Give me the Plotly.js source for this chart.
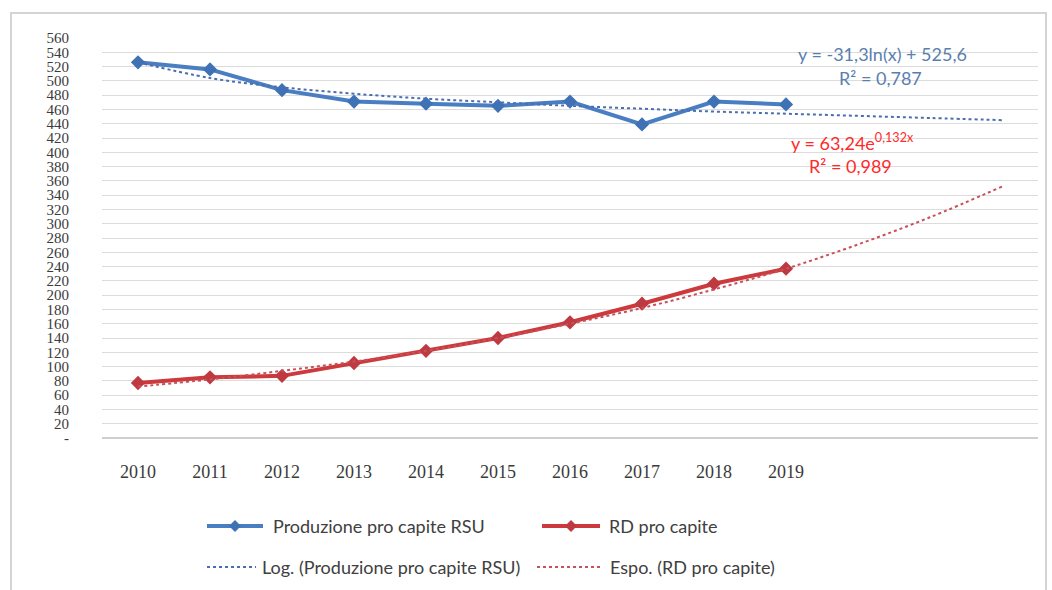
<!DOCTYPE html>
<html>
<head>
<meta charset="utf-8">
<script src="https://cdn.plot.ly/plotly-3.0.1.min.js"></script>
<style>html,body{margin:0;padding:0;background:#fff;}#chart{width:1052px;height:590px;}</style>
</head>
<body>
<div id="chart"></div>
<script>
// ---- data ----
const years = [2010, 2011, 2012, 2013, 2014, 2015, 2016, 2017, 2018, 2019];
const yearLabels = ["2010", "2011", "2012", "2013", "2014", "2015", "2016", "2017", "2018", "2019"];
const produzioneRSU = [526, 516, 487, 471, 468, 465, 471, 439, 471, 467];
const rdProCapite = [77, 85, 87, 105, 122, 140, 162, 188, 216, 237];
// trendline positions (2010..2022)
const trendYears = [2010, 2011, 2012, 2013, 2014, 2015, 2016, 2017, 2018, 2019, 2020, 2021, 2022];
const logTrend = [526, 504, 491, 482, 475, 470, 465, 461, 457, 454, 451, 448, 445];
const expTrend = [72, 82, 94, 107, 122, 140, 160, 182, 208, 237, 271, 309, 352];
const yTickVals = [0, 20, 40, 60, 80, 100, 120, 140, 160, 180, 200, 220, 240, 260, 280, 300, 320, 340, 360, 380, 400, 420, 440, 460, 480, 500, 520, 540, 560];
const yTickText = ["-", "20", "40", "60", "80", "100", "120", "140", "160", "180", "200", "220", "240", "260", "280", "300", "320", "340", "360", "380", "400", "420", "440", "460", "480", "500", "520", "540", "560"];
const seriesNames = ["Produzione pro capite RSU", "RD pro capite", "Log. (Produzione pro capite RSU)", "Espo. (RD pro capite)"];

const BLUE = "#4A7EC2", BLUE_M = "#3F72B5", RED = "#CC3A3D", RED_M = "#BE3A40";
const BLUE_T = "#4A6FB0", RED_T = "#C8505A";

const traces = [
  {x: years, y: produzioneRSU, name: seriesNames[0], type: "scatter", mode: "lines+markers",
   line: {color: BLUE, width: 4}, marker: {symbol: "diamond", size: 11, color: BLUE_M}},
  {x: years, y: rdProCapite, name: seriesNames[1], type: "scatter", mode: "lines+markers",
   line: {color: RED, width: 4}, marker: {symbol: "diamond", size: 11, color: RED_M}},
  {x: trendYears, y: logTrend, name: seriesNames[2], type: "scatter", mode: "lines",
   line: {color: BLUE_T, width: 2, dash: "dot", shape: "spline"}},
  {x: trendYears, y: expTrend, name: seriesNames[3], type: "scatter", mode: "lines",
   line: {color: RED_T, width: 2, dash: "dot", shape: "spline"}}
];

// layout helpers: pixel -> paper
const L = 102, T = 38, W = 936, H = 400;
const px = v => (v - L) / W;
const py = v => (T + H - v) / H;

function diamond(cx, cy, r, color) {
  const x0 = px(cx), y0 = py(cy), dx = r / W, dy = r / H;
  return {type: "path", xref: "paper", yref: "paper",
    path: `M ${x0 - dx} ${y0} L ${x0} ${y0 + dy} L ${x0 + dx} ${y0} L ${x0} ${y0 - dy} Z`,
    fillcolor: color, line: {width: 0}};
}
function hline(x1, x2, y, color, width, dash) {
  return {type: "line", xref: "paper", yref: "paper", x0: px(x1), x1: px(x2), y0: py(y), y1: py(y),
    line: {color: color, width: width, dash: dash || "solid"}};
}

const legFont = {family: "Lato, 'Open Sans', sans-serif", size: 18, color: "#404040"};
const shapes = [
  {type: "rect", xref: "paper", yref: "paper", x0: px(11), x1: px(1046), y0: py(13), y1: py(600),
   line: {color: "#D4D4D4", width: 2}, fillcolor: "rgba(0,0,0,0)", layer: "below"},
  hline(207, 263, 526, BLUE, 4), diamond(235, 526, 6, BLUE_M),
  hline(542, 600, 526, RED, 4), diamond(571, 526, 6, RED_M),
  hline(207, 256, 567, BLUE_T, 2, "dot"),
  hline(537, 603, 567, RED_T, 2, "dot")
];

const annotations = [
  {xref: "paper", yref: "paper", x: px(271), y: py(526), xanchor: "left", yanchor: "middle", text: seriesNames[0], showarrow: false, font: legFont},
  {xref: "paper", yref: "paper", x: px(607), y: py(526), xanchor: "left", yanchor: "middle", text: seriesNames[1], showarrow: false, font: legFont},
  {xref: "paper", yref: "paper", x: px(260), y: py(567), xanchor: "left", yanchor: "middle", text: seriesNames[2], showarrow: false, font: legFont},
  {xref: "paper", yref: "paper", x: px(608), y: py(567), xanchor: "left", yanchor: "middle", text: seriesNames[3], showarrow: false, font: legFont},
  {xref: "paper", yref: "paper", x: px(882), y: py(54), xanchor: "center", yanchor: "middle", showarrow: false,
   text: "y = -31,3ln(x) + 525,6", font: {family: "Lato, sans-serif", size: 18, color: "#5A7FAE"}},
  {xref: "paper", yref: "paper", x: px(880), y: py(78), xanchor: "center", yanchor: "middle", showarrow: false,
   text: "R² = 0,787", font: {family: "Lato, sans-serif", size: 18, color: "#5A7FAE"}},
  {xref: "paper", yref: "paper", x: px(852), y: py(142), xanchor: "center", yanchor: "middle", showarrow: false,
   text: "y = 63,24e<sup>0,132x</sup>", font: {family: "Lato, sans-serif", size: 18, color: "#FF2A2A"}},
  {xref: "paper", yref: "paper", x: px(850), y: py(166), xanchor: "center", yanchor: "middle", showarrow: false,
   text: "R² = 0,989", font: {family: "Lato, sans-serif", size: 18, color: "#FF2A2A"}}
];

const layout = {
  width: 1052, height: 590,
  margin: {l: L, r: 1052 - L - W, t: T, b: 590 - T - H, pad: 0},
  paper_bgcolor: "#ffffff", plot_bgcolor: "#ffffff",
  showlegend: false,
  xaxis: {range: [2009.5, 2022.5], tickvals: years, ticktext: yearLabels, showgrid: false, zeroline: false,
    showline: false, ticks: "", ticklabelstandoff: 21,
    tickfont: {family: "'Liberation Serif', 'DejaVu Serif', serif", size: 18, color: "#3A3A3A"}},
  yaxis: {range: [0, 560], tickvals: yTickVals, ticktext: yTickText, showgrid: true, gridcolor: "#DCDCDC", gridwidth: 1,
    zeroline: true, zerolinecolor: "#CFCFCF", zerolinewidth: 2, showline: false, ticks: "", ticklabelstandoff: 32,
    tickfont: {family: "'Liberation Serif', 'DejaVu Serif', serif", size: 15, color: "#3A3A3A"}},
  shapes: shapes,
  annotations: annotations
};

Plotly.newPlot("chart", traces, layout, {staticPlot: true, displayModeBar: false});
</script>
</body>
</html>
